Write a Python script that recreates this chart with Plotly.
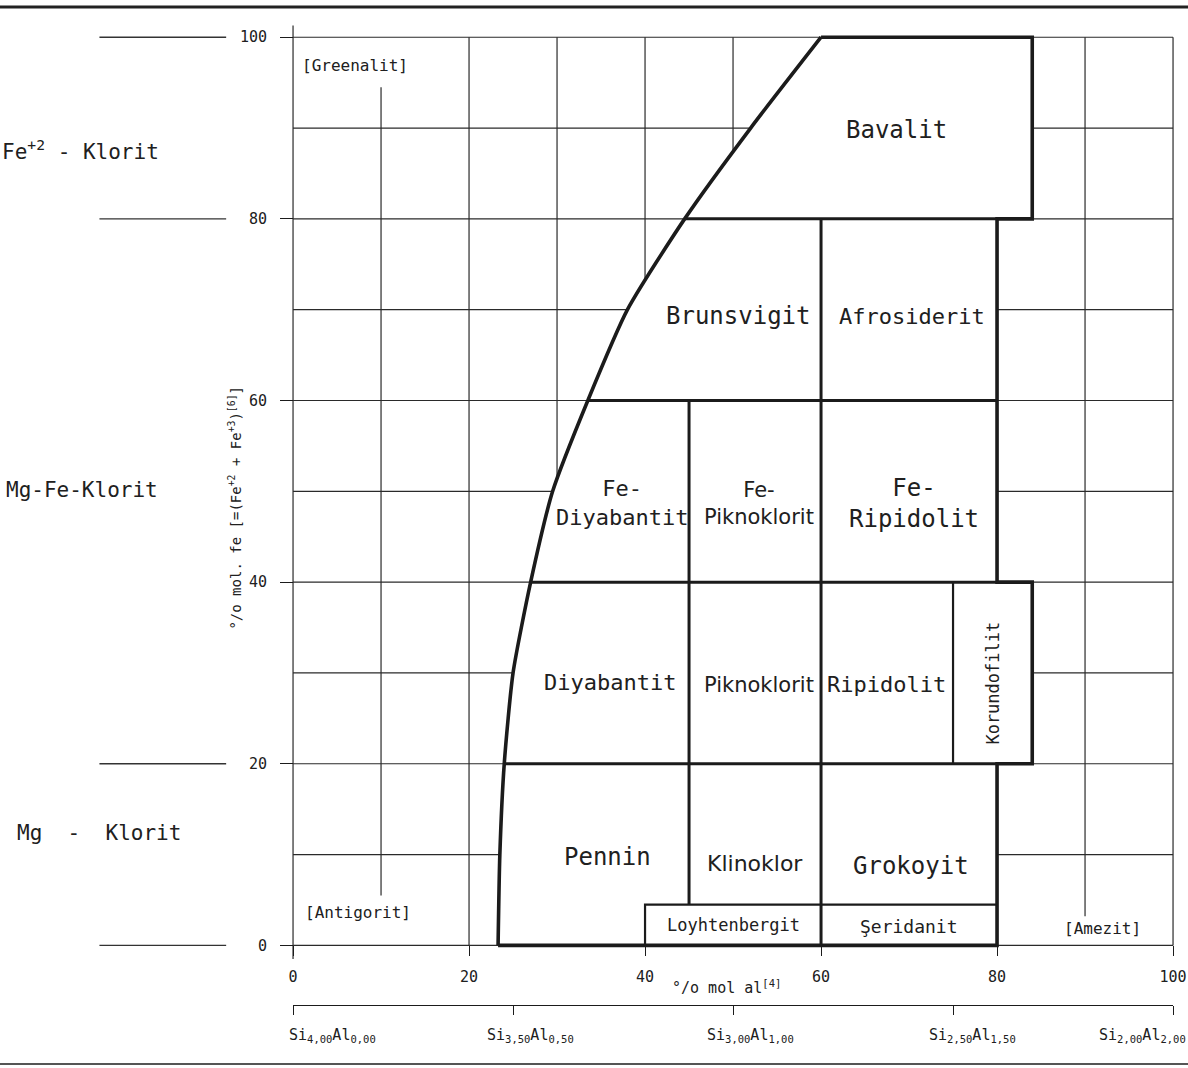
import numpy as np
import plotly.graph_objects as go

# ---------------------------------------------------------------
# Chlorite classification diagram: % mol Al[4] vs % mol Fe[6]
# ---------------------------------------------------------------

# Fe-class limits (horizontal boundaries) and axis ticks
fe_class_limits = [20, 40, 60, 80]
axis_ticks = [0, 20, 40, 60, 80, 100]
grid_values = list(range(0, 101, 10))

# limiting curve of the chlorite field: Al[4] reached at each Fe level
limit_fe = [0, 10, 20, 30, 40, 50, 60, 70, 80, 90, 100]
limit_al = [23.3, 23.5, 24.0, 25.0, 27.0, 29.5, 33.5, 38.0, 44.5, 52.0, 60.0]

# Al[4] column limits
al_pennin_klinoklor = 45
al_klinoklor_grokoyit = 60
al_ripidolit_korundofilit = 75
al_main_right = 80
al_korundofilit_right = 84
al_bavalit_right = 84
al_loyhtenbergit_left = 40
fe_low_box_top = 4.5

# secondary composition scale (tetrahedral Si / Al)
si_ticks = [4.00, 3.50, 3.00, 2.50, 2.00]
al_for_si = [0.00, 0.50, 1.00, 1.50, 2.00]

# chlorite groups on the Fe scale (separator levels)
group_separators = [100, 80, 20, 0]

# ---------------------------------------------------------------
INK = "#1b1b1b"
MONO = "DejaVu Sans Mono"
SANS = "DejaVu Sans"
W, H = 1188, 1068
X_RANGE = [-33.3, 101.7]
Y_RANGE = [-13.5, 104.1]


def curve_at(fe):
    return float(np.interp(fe, limit_fe, limit_al))


def px(x):
    """paper x fraction for a data value on the Al axis"""
    return (x - X_RANGE[0]) / (X_RANGE[1] - X_RANGE[0])


def py(y):
    return (y - Y_RANGE[0]) / (Y_RANGE[1] - Y_RANGE[0])


def line_trace(x, y, width, color=INK, **kw):
    return go.Scatter(x=x, y=y, mode="lines",
                      line=dict(color=color, width=width, **kw),
                      hoverinfo="skip", showlegend=False)


fig = go.Figure()

# --- background grid (10 % steps), hidden later inside the chlorite field
gx, gy = [], []
v_extent = {0: (-1.5, 101.3), 10: (5.5, 94.5), 90: (3.2, 100)}
for v in grid_values:
    lo, hi = v_extent.get(v, (0, 100))
    gx += [v, v, None]
    gy += [lo, hi, None]
for v in grid_values:
    gx += [0, 100, None]
    gy += [v, v, None]
fig.add_trace(line_trace(gx, gy, 1.2, color="#2a2a2a"))

# --- chlorite field: white area covering the grid
right_x = [al_bavalit_right, al_bavalit_right, al_main_right, al_main_right,
           al_korundofilit_right, al_korundofilit_right, al_main_right,
           al_main_right, limit_al[0]]
right_y = [100, 80, 80, 40, 40, 20, 20, 0, 0]
fig.add_trace(go.Scatter(x=list(limit_al) + right_x,
                         y=list(limit_fe) + right_y,
                         mode="none", fill="toself", fillcolor="white",
                         hoverinfo="skip", showlegend=False))

# outer boundary: smooth limiting curve + stepped right/top/bottom edges
fig.add_trace(line_trace(limit_al, limit_fe, 3.6, shape="spline",
                         smoothing=0.6))
fig.add_trace(line_trace([limit_al[-1]] + right_x, [limit_fe[-1]] + right_y,
                         3.6))

# --- internal class boundaries
ix, iy = [], []
for fe in fe_class_limits:
    ix += [curve_at(fe), al_main_right, None]
    iy += [fe, fe, None]
ix += [al_pennin_klinoklor, al_pennin_klinoklor, None]
iy += [fe_low_box_top, 60, None]
ix += [al_klinoklor_grokoyit, al_klinoklor_grokoyit, None]
iy += [0, 80, None]
fig.add_trace(line_trace(ix, iy, 3.0))

# Korundofilit column and low-Fe (Loyhtenbergit / Seridanit) strip
fig.add_trace(line_trace(
    [al_ripidolit_korundofilit, al_ripidolit_korundofilit, None,
     al_loyhtenbergit_left, al_loyhtenbergit_left, al_main_right],
    [20, 40, None, 0, fe_low_box_top, fe_low_box_top], 2.2))

# --- group separators in the left margin
sx, sy = [], []
for fe in group_separators:
    sx += [-22.0, -7.6, None]
    sy += [fe, fe, None]
fig.add_trace(line_trace(sx, sy, 1.3, color="#333333"))

# carrier trace for the Si/Al scale
fig.add_trace(go.Scatter(x=[si_ticks[0], si_ticks[-1]], y=[None, None],
                         xaxis="x2", yaxis="y", mode="markers",
                         hoverinfo="skip", showlegend=False))

# --- labels
ann = []


def label(text, x, y, size=24, family=MONO, angle=0, xanchor="center",
          xref="x", color="#202020", xshift=0):
    ann.append(dict(text=text, x=x, y=y, xref=xref, yref="y",
                    showarrow=False, textangle=angle, xanchor=xanchor,
                    yanchor="middle", xshift=xshift,
                    font=dict(family=family, size=size, color=color)))


label("Bavalit", 68.6, 89.8)
label("Brunsvigit", 50.6, 69.3)
label("Afrosiderit", 70.3, 69.3, size=22)
label("Fe-<br>Diyabantit", 37.4, 48.7, size=22)
label("Fe-<br>Piknoklorit", 53.0, 48.7, size=21, family=SANS)
label("Fe-<br>Ripidolit", 70.6, 48.7)
label("Diyabantit", 36.0, 28.9, size=22)
label("Piknoklorit", 52.9, 28.7, size=21, family=SANS)
label("Ripidolit", 67.4, 28.7, size=22)
label("Korundofilit", 79.5, 28.9, size=17, angle=-90)
label("Pennin", 35.7, 9.7)
label("Klinoklor", 52.5, 9.0, size=22, family=SANS)
label("Grokoyit", 70.2, 8.7)
label("Loyhtenbergit", 50.0, 2.2, size=17)
label("Şeridanit", 70.0, 2.1, size=18)
label("[Greenalit]", 0.8, 96.9, size=16, xanchor="left")
label("[Antigorit]", 1.1, 3.6, size=16, xanchor="left")
label("[Amezit]", 92.0, 1.9, size=16)

label("Fe<sup>+2</sup> - Klorit", 0.0, 87.6, size=21, xanchor="left",
      xref="paper")
label("Mg-Fe-Klorit", 0.003, 50.1, size=21, xanchor="left", xref="paper")
label("Mg  -  Klorit", 0.013, 12.4, size=21, xanchor="left", xref="paper")

label("°/o mol al<sup>[4]</sup>", 49.2, -4.6, size=15)
label("°/o mol. fe [=(Fe<sup>+2</sup> + Fe<sup>+3</sup>)<sup>[6]</sup>]",
      -6.6, 48.2, size=14, angle=-90)

# Si / Al scale labels, placed at their ticks on the secondary axis
si_text = [f"Si<sub>{s:.2f}</sub>Al<sub>{a:.2f}</sub>".replace(".", ",")
           for s, a in zip(si_ticks, al_for_si)]
si_anchor = ["left", "center", "center", "center", "right"]
si_shift = [-6, 17, 17, 19, 15]
for s, t, anc, sh in zip(si_ticks, si_text, si_anchor, si_shift):
    label(t, s, -9.9, size=15, xanchor=anc, xref="x2", xshift=sh)

fig.update_layout(
    width=W, height=H, autosize=False,
    margin=dict(l=0, r=0, t=0, b=0, autoexpand=False),
    paper_bgcolor="white", plot_bgcolor="rgba(0,0,0,0)",
    showlegend=False, hovermode=False,
    annotations=ann,
    xaxis=dict(range=X_RANGE, domain=[0, 1], anchor="free", position=py(0),
               tickvals=axis_ticks, ticks="outside", ticklen=10, tickwidth=1.4,
               tickcolor=INK, showline=False, showgrid=False, zeroline=False,
               ticklabelstandoff=8,
               tickfont=dict(family=MONO, size=15, color="#202020")),
    yaxis=dict(range=Y_RANGE, domain=[0, 1], anchor="free", position=px(0),
               tickvals=axis_ticks, ticks="outside", ticklen=13, tickwidth=1.4,
               tickcolor=INK, showline=False, showgrid=False, zeroline=False,
               ticklabelstandoff=10,
               tickfont=dict(family=MONO, size=15, color="#202020")),
    xaxis2=dict(range=[si_ticks[0], si_ticks[-1]], domain=[px(0), px(100)],
                anchor="free", position=0.059, showline=True, linewidth=1.4,
                linecolor=INK, ticks="outside", ticklen=9, tickwidth=1.4,
                tickcolor=INK, tickvals=si_ticks, showticklabels=False,
                showgrid=False, zeroline=False),
    shapes=[
        dict(type="line", xref="paper", yref="paper", x0=0, x1=1,
             y0=1 - 7 / H, y1=1 - 7 / H, line=dict(color="#222222", width=3)),
        dict(type="line", xref="paper", yref="paper", x0=0, x1=1,
             y0=1 - 1064 / H, y1=1 - 1064 / H,
             line=dict(color="#555555", width=2)),
    ],
)

fig.write_html("out.html", config={"displayModeBar": False})
